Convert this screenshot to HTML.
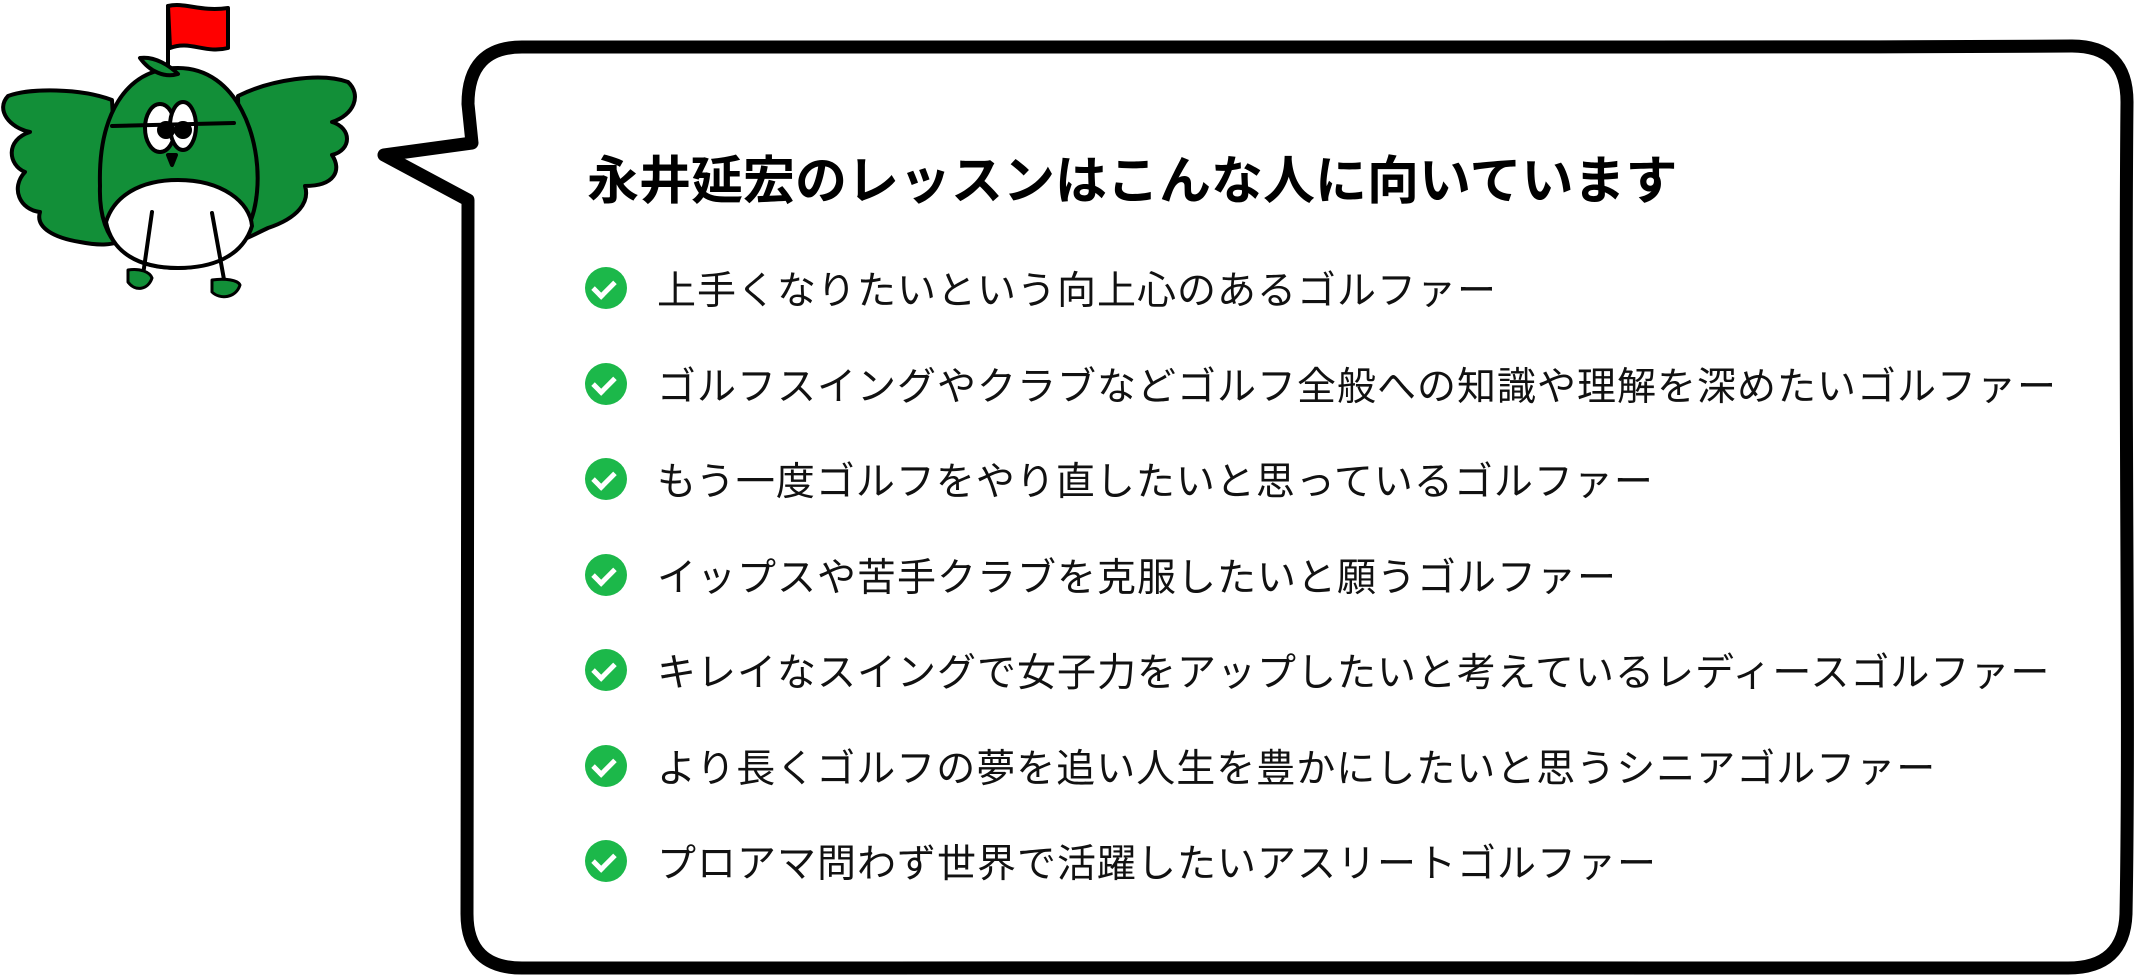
<!DOCTYPE html>
<html><head><meta charset="utf-8">
<style>
html,body{margin:0;padding:0;background:#fff;}
body{width:2140px;height:980px;position:relative;overflow:hidden;font-family:"Liberation Sans","Noto Sans CJK JP",sans-serif;}
svg{position:absolute;left:0;top:0;}
.title{position:absolute;left:587px;top:150px;font-size:52px;font-weight:bold;line-height:64px;white-space:nowrap;color:#000;}
.item{position:absolute;left:585px;height:44px;display:flex;align-items:center;white-space:nowrap;font-size:39px;color:#111;letter-spacing:1px;}
.chk{width:42px;height:42px;border-radius:50%;background:#1cb84a;position:relative;margin-right:30px;flex:none;}
.chk:after{content:"";position:absolute;left:12px;top:9px;width:9px;height:17px;border-right:5px solid #fff;border-bottom:5px solid #fff;transform:rotate(45deg);}
</style></head><body>
<svg width="2140" height="980" viewBox="0 0 2140 980">
<path d="M522,47 C900,42 1500,50 2072,46 Q2127,46 2127,102 C2124,400 2130,700 2126,914 Q2124,968 2068,968 C1600,972 1000,964 522,968 Q467,968 467,914 L468,200 L384,155 L472,143 L468,104 Q468,47 522,47 Z" fill="#fff" stroke="#000" stroke-width="13" stroke-linejoin="round"/>
<g stroke="#000" stroke-width="4" stroke-linejoin="round" stroke-linecap="round">
<line x1="168" y1="68" x2="168" y2="6" />
<path d="M168,6 C185,2 200,12 228,8 L228,48 C205,54 190,40 170,48 Z" fill="#f00"/>
<path d="M112,100 C80,88 30,88 8,96 C-5,110 10,128 30,132 C5,140 8,165 25,172 C10,188 20,210 40,212 C35,228 55,238 80,242 C100,246 115,245 120,240 Z" fill="#128f38"/>
<path d="M238,96 C270,80 320,72 348,82 C362,95 354,115 332,122 C352,128 352,150 332,155 C342,170 335,186 305,186 C310,202 298,218 268,228 C255,234 245,240 240,240 Z" fill="#128f38"/>
<path d="M178,68 C238,68 262,140 257,192 C252,248 215,268 178,268 C128,268 98,242 100,186 C98,118 124,68 178,68 Z" fill="#128f38"/>
<path d="M106,222 C114,196 140,180 178,180 C222,180 250,202 252,226 C242,258 210,268 178,268 C138,268 112,252 106,222 Z" fill="#fff"/>
<path d="M140,58 C155,56 170,66 178,74 C165,78 150,72 140,58 Z" fill="#128f38"/>
<ellipse cx="160" cy="128" rx="15" ry="24" fill="#fff"/>
<ellipse cx="183" cy="126" rx="13" ry="24" fill="#fff"/>
<circle cx="166" cy="130" r="7" fill="#000"/>
<circle cx="183" cy="130" r="7" fill="#000"/>
<line x1="112" y1="126" x2="234" y2="123"/>
<path d="M168,155 L176,155 L172,165 Z" fill="#000"/>
<line x1="152" y1="212" x2="143" y2="275"/>
<line x1="212" y1="213" x2="225" y2="285"/>
<path d="M128,270 C140,268 150,272 152,278 C148,290 135,292 128,282 Z" fill="#128f38" stroke-width="3"/>
<path d="M212,280 C225,278 238,280 240,285 C236,298 220,300 212,292 Z" fill="#128f38" stroke-width="3"/>
</g>
</svg>
<div class="title">永井延宏のレッスンはこんな人に向いています</div>
<div class="item" style="top:266px"><span class="chk"></span>上手くなりたいという向上心のあるゴルファー</div>
<div class="item" style="top:362px"><span class="chk"></span>ゴルフスイングやクラブなどゴルフ全般への知識や理解を深めたいゴルファー</div>
<div class="item" style="top:457px"><span class="chk"></span>もう一度ゴルフをやり直したいと思っているゴルファー</div>
<div class="item" style="top:553px"><span class="chk"></span>イップスや苦手クラブを克服したいと願うゴルファー</div>
<div class="item" style="top:648px"><span class="chk"></span>キレイなスイングで女子力をアップしたいと考えているレディースゴルファー</div>
<div class="item" style="top:744px"><span class="chk"></span>より長くゴルフの夢を追い人生を豊かにしたいと思うシニアゴルファー</div>
<div class="item" style="top:839px"><span class="chk"></span>プロアマ問わず世界で活躍したいアスリートゴルファー</div>
</body></html>
